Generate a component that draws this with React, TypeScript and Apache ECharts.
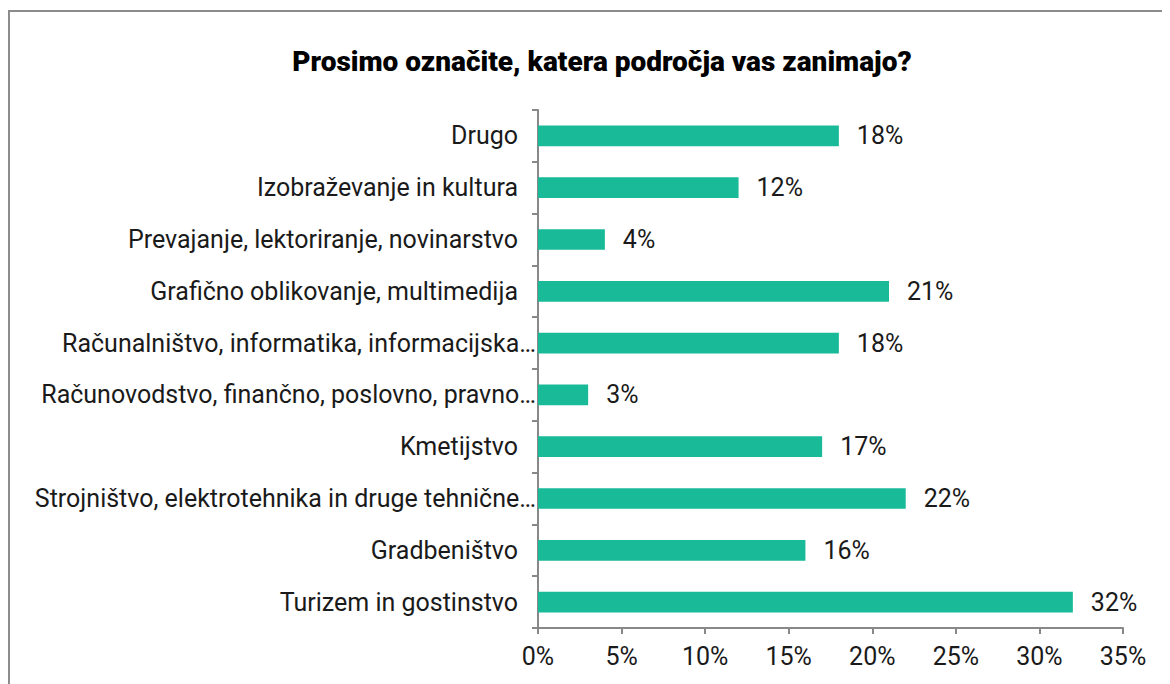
import React, { useEffect, useRef } from "react";
import * as echarts from "echarts";

const categories = [
  "Turizem in gostinstvo",
  "Gradbeništvo",
  "Strojništvo, elektrotehnika in druge tehnične…",
  "Kmetijstvo",
  "Računovodstvo, finančno, poslovno, pravno…",
  "Računalništvo, informatika, informacijska…",
  "Grafično oblikovanje, multimedija",
  "Prevajanje, lektoriranje, novinarstvo",
  "Izobraževanje in kultura",
  "Drugo",
];
const values = [32, 16, 22, 17, 3, 18, 21, 4, 12, 18];
const title = "Prosimo označite, katera področja vas zanimajo?";

export default function App() {
  const ref = useRef<HTMLDivElement>(null);
  useEffect(() => {
    if (!ref.current) return;
    const chart = echarts.init(ref.current, null, { renderer: "svg" });
    const font = "Roboto, 'Noto Sans', sans-serif";
    chart.setOption({
      animation: false,
      textStyle: { fontFamily: font },
      title: {
        text: title,
        left: 589,
        top: 34,
        textAlign: "center",
        textStyle: { fontFamily: font, fontSize: 28, fontWeight: 900, color: "#000" },
      },
      graphic: [
        {
          type: "rect",
          shape: { x: 1, y: 3, width: 1300, height: 800 },
          style: { fill: "none", stroke: "#8c8c8c", lineWidth: 2 },
          silent: true,
        },
      ],
      grid: { left: 530, right: 47, top: 102, bottom: 56, containLabel: false },
      xAxis: {
        type: "value",
        min: 0,
        max: 35,
        interval: 5,
        splitLine: { show: false },
        axisLine: { show: true, lineStyle: { color: "#888", width: 2 } },
        axisTick: { show: true, length: 6, lineStyle: { color: "#888", width: 2 } },
        axisLabel: {
          formatter: "{value}%",
          fontSize: 25,
          color: "#1a1a1a",
          margin: 16,
          fontFamily: font,
        },
      },
      yAxis: {
        type: "category",
        data: categories,
        axisLine: { show: true, lineStyle: { color: "#888", width: 2 } },
        axisTick: { show: true, length: 6, lineStyle: { color: "#888", width: 2 } },
        axisLabel: {
          fontSize: 25,
          color: "#1a1a1a",
          margin: 1,
          fontFamily: font,
          formatter: (v: string) => (v.endsWith("…") ? `{t|${v}}` : `{n|${v}}`),
          rich: {
            n: { fontSize: 25, color: "#1a1a1a", fontFamily: font, padding: [0, 19, 0, 0] },
            t: { fontSize: 25, color: "#1a1a1a", fontFamily: font, padding: [0, 1, 0, 0] },
          },
        },
      },
      series: [
        {
          type: "bar",
          data: values,
          barWidth: "40%",
          itemStyle: { color: "#19BA98" },
          label: {
            show: true,
            position: "right",
            distance: 18,
            formatter: "{c}%",
            fontSize: 25,
            color: "#1a1a1a",
            fontFamily: font,
          },
        },
      ],
    });
    return () => chart.dispose();
  }, []);
  return <div ref={ref} style={{ width: 1162, height: 676 }} />;
}
